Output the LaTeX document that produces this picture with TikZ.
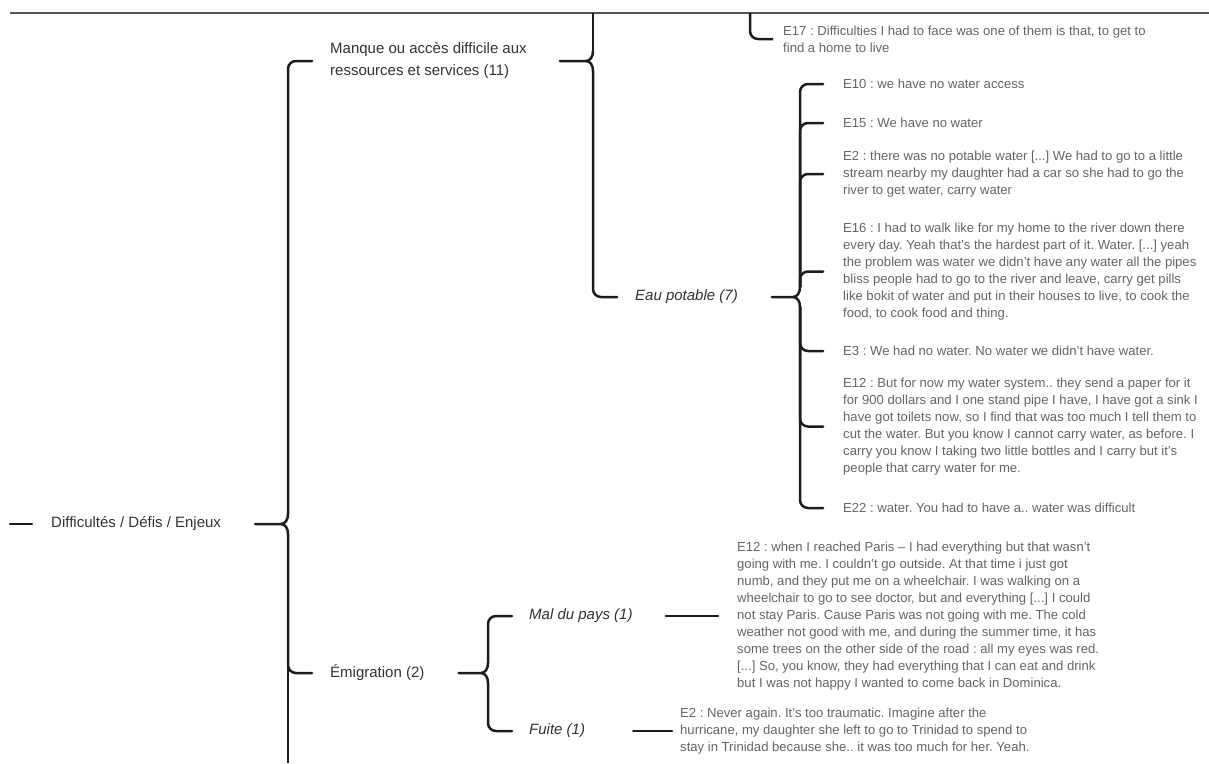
\documentclass[tikz,border=0pt]{standalone}
\usepackage{fontspec}
\setmainfont{Liberation Sans}
\usepackage{xcolor}
\usepackage{tikz}
\usetikzlibrary{calc}
\definecolor{linkC}{RGB}{28,28,28}
\definecolor{frameC}{RGB}{85,85,85}
\definecolor{topicC}{RGB}{50,50,50}
\definecolor{quoteC}{RGB}{100,100,100}
\frenchspacing

\begin{document}
\begin{tikzpicture}[x=1pt,y=-1pt,
  link/.style={line width=2.5pt,draw=linkC,rounded corners=8pt,line cap=round},
  tip/.style={line width=2.5pt,draw=linkC,sharp corners,line cap=round,line join=round},
  topic/.style={inner sep=0pt,anchor=west,align=left,text=topicC,
                font=\fontsize{15}{22}\selectfont},
  subtopic/.style={topic,font=\fontsize{15}{22}\selectfont\itshape},
  quote/.style={inner sep=0pt,anchor=west,align=left,text=quoteC,
                font=\fontsize{13.1}{17}\selectfont}]
\useasboundingbox (0,0) rectangle (1209,763);

%─── Frame line at the top ──────────────────────────────────────────────────
\coordinate (topL) at (10,13);
\coordinate (topR) at (1209,13);
\draw[line width=1.4pt,frameC] (topL) -- (topR);

%─── Topics ─────────────────────────────────────────────────────────────────
\node[topic] (root) at (51,524) {Difficultés / Défis / Enjeux};
\node[topic] (manque) at (330,61) {Manque ou accès difficile aux\\ressources et services (11)};
\node[subtopic] (eau) at (635,297) {Eau potable (7)};
\node[topic] (emig) at (330,673) {Émigration (2)};
\node[subtopic] (mal) at (529,616) {Mal du pays (1)};
\node[subtopic] (fuite) at (529,731) {Fuite (1)};

%─── Quotes ─────────────────────────────────────────────────────────────────
\node[quote] (e17) at (783,39) {E17 : Difficulties I had to face was one of them is that, to get to\\find a home to live};
\node[quote] (e10) at (843,84) {E10 : we have no water access};
\node[quote] (e15) at (843,123) {E15 : We have no water};
\node[quote] (e2) at (843,174) {E2 : there was no potable water [...] We had to go to a little\\stream nearby my daughter had a car so she had to go the\\river to get water, carry water};
\node[quote] (e16) at (843,271.5) {E16 : I had to walk like for my home to the river down there\\every day. Yeah that's the hardest part of it. Water. [...] yeah\\the problem was water we didn't have any water all the pipes\\bliss people had to go to the river and leave, carry get pills\\like bokit of water and put in their houses to live, to cook the\\food, to cook food and thing.};
\node[quote] (e3) at (843,351) {E3 : We had no water. No water we didn't have water.};
\node[quote] (e12) at (843,426.5) {E12 : But for now my water system.. they send a paper for it\\for 900 dollars and I one stand pipe I have, I have got a sink I\\have got toilets now, so I find that was too much I tell them to\\cut the water. But you know I cannot carry water, as before. I\\carry you know I taking two little bottles and I carry but it's\\people that carry water for me.};
\node[quote] (e22) at (843,508) {E22 : water. You had to have a.. water was difficult};
\node[quote] (e12p) at (737,616) {E12 : when I reached Paris – I had everything but that wasn't\\going with me. I couldn't go outside. At that time i just got\\numb, and they put me on a wheelchair. I was walking on a\\wheelchair to go to see doctor, but and everything [...] I could\\not stay Paris. Cause Paris was not going with me. The cold\\weather not good with me, and during the summer time, it has\\some trees on the other side of the road : all my eyes was red.\\{}[...] So, you know, they had everything that I can eat and drink\\but I was not happy I wanted to come back in Dominica.};
\node[quote] (e2f) at (680,731) {E2 : Never again. It's too traumatic. Imagine after the\\hurricane, my daughter she left to go to Trinidad to spend to\\stay in Trinidad because she.. it was too much for her. Yeah.};

%─── Brace tips and loose ends ──────────────────────────────────────────────
\coordinate (rootB) at (288,524);
\coordinate (manqueB) at (593,61);
\coordinate (eauB) at (800,297);
\coordinate (emigB) at (488,673);
\coordinate (rootIn) at (10,524);
\coordinate (rootOff) at (288,763);
\coordinate (manqueOff) at (593,13);
\coordinate (e17Top) at (750,13);

%─── Root brace ─────────────────────────────────────────────────────────────
\draw[link] (rootIn) -- ($(root.west)+(-19,0)$);
\draw[tip] ($(root.east)+(34,0)$) -- ($(rootB)+(-7,0)$) .. controls +(4,0) and +(0,6) .. ($(rootB)+(0,-10)$);
\draw[tip] ($(rootB)+(-7,0)$) .. controls +(4,0) and +(0,-6) .. ($(rootB)+(0,10)$);
\draw[link] ($(rootB)+(0,-10)$) |- ($(manque.west)+(-18,0)$);
\draw[link] ($(rootB)+(0,10)$) |- ($(emig.west)+(-18,0)$);
\draw[link,line cap=butt] ($(rootB)+(0,10)$) -- (rootOff);

%─── Manque brace ───────────────────────────────────────────────────────────
\draw[tip] ($(manque.east)+(33,0)$) -- ($(manqueB)+(-7,0)$) .. controls +(4,0) and +(0,6) .. ($(manqueB)+(0,-10)$);
\draw[tip] ($(manqueB)+(-7,0)$) .. controls +(4,0) and +(0,-6) .. ($(manqueB)+(0,10)$);
\draw[link,line cap=butt] ($(manqueB)+(0,-10)$) -- (manqueOff);
\draw[link] ($(manqueB)+(0,10)$) |- ($(eau.west)+(-18,0)$);
\draw[link,line cap=butt] (e17Top) |- ($(e17.west)+(-10,0)$);

%─── Eau potable brace ──────────────────────────────────────────────────────
\draw[tip] ($(eau.east)+(34,0)$) -- ($(eauB)+(-7,0)$) .. controls +(4,0) and +(0,6) .. ($(eauB)+(0,-10)$);
\draw[tip] ($(eauB)+(-7,0)$) .. controls +(4,0) and +(0,-6) .. ($(eauB)+(0,10)$);
\draw[link] ($(eauB)+(0,-10)$) |- ($(e10.west)+(-20,0)$);
\draw[link] ($(eauB)+(0,-10)$) |- ($(e15.west)+(-20,0)$);
\draw[link] ($(eauB)+(0,-10)$) |- ($(e2.west)+(-20,0)$);
\draw[link] ($(eauB)+(0,-10)$) |- ($(e16.west)+(-20,0)$);
\draw[link] ($(eauB)+(0,10)$) |- ($(e3.west)+(-20,0)$);
\draw[link] ($(eauB)+(0,10)$) |- ($(e12.west)+(-20,0)$);
\draw[link] ($(eauB)+(0,10)$) |- ($(e22.west)+(-20,0)$);

%─── Emigration brace ───────────────────────────────────────────────────────
\draw[tip] ($(emig.east)+(34,0)$) -- ($(emigB)+(-7,0)$) .. controls +(4,0) and +(0,6) .. ($(emigB)+(0,-10)$);
\draw[tip] ($(emigB)+(-7,0)$) .. controls +(4,0) and +(0,-6) .. ($(emigB)+(0,10)$);
\draw[link] ($(emigB)+(0,-10)$) |- ($(mal.west)+(-17,0)$);
\draw[link] ($(emigB)+(0,10)$) |- ($(fuite.west)+(-17,0)$);
\draw[link] ($(mal.east)+(33,0)$) -- ($(e12p.west)+(-19,0)$);
\draw[link] ($(fuite.east)+(48,0)$) -- ($(e2f.west)+(-8,0)$);

\end{tikzpicture}
\end{document}
